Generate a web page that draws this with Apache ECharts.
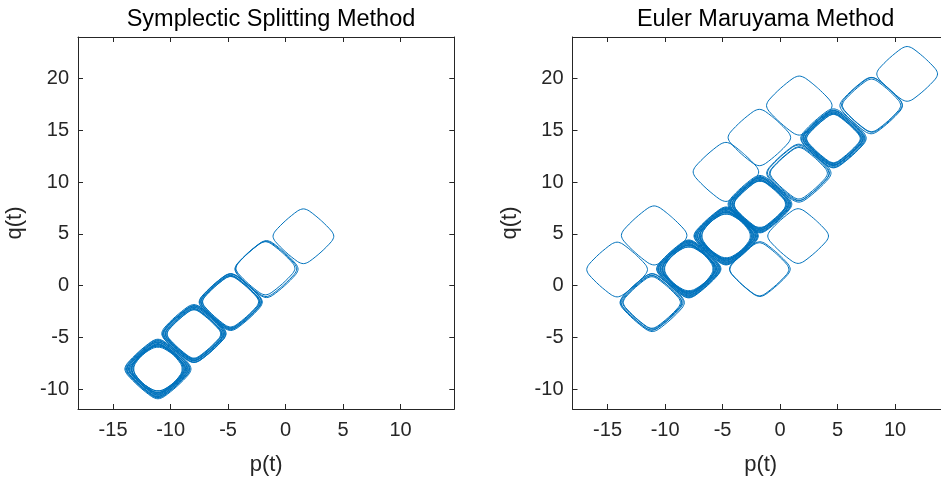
<!DOCTYPE html>
<html>
<head>
<meta charset="utf-8">
<script src="https://cdn.jsdelivr.net/npm/echarts@6/dist/echarts.min.js"></script>
<style>html,body{margin:0;padding:0;background:#fff;}#c{width:941px;height:477px;}</style>
</head>
<body>
<div id="c"></div>
<script>
// ---- data ----
const titles = ['Symplectic Splitting Method', 'Euler Maruyama Method'];
const xTicks = [-15, -10, -5, 0, 5, 10];
const yTicks = [-10, -5, 0, 5, 10, 15, 20];
const xRange = [-18.05, 14.67];
const yRange = [-11.9, 24];

// outer loop shape (near-separatrix orbit), relative to loop centre, data units
const shapeOuter = [[1.5,1.5],[1.0,1.97],[0.5,2.39],[0.25,2.53],[0,2.59],[-0.25,2.53],[-0.5,2.39],[-1.0,1.97],
  [-1.5,1.5],[-1.97,1.0],[-2.39,0.5],[-2.53,0.25],[-2.59,0],[-2.53,-0.25],[-2.39,-0.5],[-1.97,-1.0],
  [-1.5,-1.5],[-1.0,-1.97],[-0.5,-2.39],[-0.25,-2.53],[0,-2.59],[0.25,-2.53],[0.5,-2.39],[1.0,-1.97],
  [1.5,-1.5],[1.97,-1.0],[2.39,-0.5],[2.53,-0.25],[2.59,0],[2.53,0.25],[2.39,0.5],[1.97,1.0],[1.5,1.5]];
// inner (rounder) loop shape
const shapeInner = [[1.27,1.27],[1.0,1.51],[0.5,1.85],[0.25,1.95],[0,1.98],[-0.25,1.95],[-0.5,1.85],[-1.0,1.51],
  [-1.27,1.27],[-1.51,1.0],[-1.85,0.5],[-1.95,0.25],[-1.98,0],[-1.95,-0.25],[-1.85,-0.5],[-1.51,-1.0],
  [-1.27,-1.27],[-1.0,-1.51],[-0.5,-1.85],[-0.25,-1.95],[0,-1.98],[0.25,-1.95],[0.5,-1.85],[1.0,-1.51],
  [1.27,-1.27],[1.51,-1.0],[1.85,-0.5],[1.95,-0.25],[1.98,0],[1.95,0.25],[1.85,0.5],[1.51,1.0],[1.27,1.27]];
const shapes = [shapeOuter, shapeInner];

// loops: [centre p, centre q, size factor, shape index]
const leftLoops = [
  [1.55, 4.77, 1.02, 0],
  [-1.75, 1.68, 0.99, 0], [-1.70, 1.62, 1.03, 0], [-1.66, 1.60, 1.06, 0],
  [-4.78, -1.55, 0.94, 0], [-4.76, -1.57, 0.96, 0], [-4.80, -1.55, 0.98, 0], [-4.78, -1.60, 1.00, 0],
  [-4.75, -1.52, 1.02, 0], [-4.79, -1.56, 1.04, 0], [-4.77, -1.58, 1.06, 0],
  [-7.97, -4.66, 0.90, 0], [-7.95, -4.68, 0.92, 0], [-7.99, -4.64, 0.94, 0], [-7.97, -4.70, 0.96, 0],
  [-7.94, -4.63, 0.98, 0], [-8.00, -4.66, 1.00, 0], [-7.96, -4.60, 1.02, 0], [-7.98, -4.67, 1.04, 0],
  [-7.95, -4.65, 1.06, 0], [-7.97, -4.62, 1.08, 0],
  [-11.10, -8.04, 1.06, 1], [-11.08, -8.00, 1.09, 1], [-11.12, -8.06, 1.12, 1], [-11.10, -8.03, 1.15, 1],
  [-11.10, -8.02, 0.90, 0], [-11.07, -8.05, 0.92, 0], [-11.12, -8.03, 0.94, 0], [-11.09, -8.07, 0.96, 0],
  [-11.11, -8.00, 0.98, 0], [-11.08, -8.04, 1.00, 0], [-11.13, -8.06, 1.02, 0], [-11.10, -8.02, 1.04, 0],
  [-11.09, -8.05, 1.06, 0], [-11.11, -8.03, 1.08, 0], [-11.10, -8.04, 1.11, 0]
];
const rightLoops = [
  [11.05, 20.44, 1.02, 0],
  [7.95, 17.40, 0.98, 0], [7.98, 17.45, 1.02, 0], [7.92, 17.38, 1.05, 0],
  [4.64, 14.20, 0.90, 0], [4.66, 14.18, 0.92, 0], [4.62, 14.22, 0.94, 0], [4.64, 14.16, 0.96, 0],
  [4.67, 14.21, 0.98, 0], [4.61, 14.19, 1.00, 0], [4.64, 14.24, 1.02, 0], [4.65, 14.20, 1.04, 0],
  [4.63, 14.18, 1.07, 0], [4.64, 14.22, 1.10, 0],
  [1.63, 10.85, 0.96, 0], [1.66, 10.82, 1.00, 0], [1.60, 10.88, 1.04, 0], [1.63, 10.86, 1.08, 0],
  [-1.75, 7.85, 0.88, 0], [-1.73, 7.83, 0.90, 0], [-1.77, 7.87, 0.92, 0], [-1.75, 7.82, 0.94, 0],
  [-1.72, 7.88, 0.96, 0], [-1.78, 7.85, 0.98, 0], [-1.75, 7.86, 1.00, 0], [-1.74, 7.84, 1.02, 0],
  [-1.76, 7.85, 1.04, 0], [-1.75, 7.87, 1.07, 0], [-1.75, 7.85, 1.12, 1],
  [-4.69, 4.80, 1.06, 1], [-4.67, 4.78, 1.09, 1], [-4.71, 4.82, 1.12, 1], [-4.69, 4.79, 1.15, 1],
  [-4.69, 4.80, 0.90, 0], [-4.66, 4.78, 0.92, 0], [-4.72, 4.82, 0.94, 0], [-4.69, 4.76, 0.96, 0],
  [-4.67, 4.83, 0.98, 0], [-4.71, 4.79, 1.00, 0], [-4.69, 4.81, 1.02, 0], [-4.68, 4.80, 1.04, 0],
  [-4.70, 4.79, 1.06, 0], [-4.69, 4.80, 1.08, 0],
  [-7.94, 1.62, 1.06, 1], [-7.92, 1.60, 1.09, 1], [-7.96, 1.64, 1.12, 1], [-7.94, 1.61, 1.15, 1],
  [-7.94, 1.62, 0.90, 0], [-7.91, 1.60, 0.92, 0], [-7.97, 1.64, 0.94, 0], [-7.94, 1.58, 0.96, 0],
  [-7.92, 1.65, 0.98, 0], [-7.96, 1.61, 1.00, 0], [-7.94, 1.63, 1.02, 0], [-7.93, 1.62, 1.04, 0],
  [-7.95, 1.61, 1.06, 0], [-7.94, 1.62, 1.08, 0],
  [-11.15, -1.62, 0.96, 0], [-11.13, -1.60, 0.99, 0], [-11.17, -1.64, 1.02, 0], [-11.15, -1.58, 1.05, 0], [-11.12, -1.63, 1.08, 0],
  [-14.17, 1.56, 1.02, 0],
  [-10.95, 4.85, 1.10, 0],
  [-4.71, 10.98, 1.10, 0],
  [-1.80, 14.30, 1.05, 0],
  [1.67, 17.38, 1.10, 0],
  [1.57, 4.79, 1.02, 0],
  [-1.80, 1.58, 0.99, 0], [-1.76, 1.60, 1.02, 0]
];

// ---- chart ----
const AX = '#262626';
const LINE = '#0072BD';
const FONT = 'Liberation Sans';
const grids = [
  { left: 78, top: 37, width: 376.3, height: 372, containLabel: false, outerBoundsMode: 'none' },
  { left: 572.5, top: 37, width: 376.3, height: 372, containLabel: false, outerBoundsMode: 'none' }
];

const xAxes = [], yAxes = [], series = [];
[0, 1].forEach(g => {
  xAxes.push({
    type: 'value', gridIndex: g, min: xRange[0], max: xRange[1], position: 'bottom',
    name: 'p(t)', nameLocation: 'middle', nameGap: 45,
    nameTextStyle: { fontSize: 22, color: AX, fontFamily: FONT },
    axisLine: { show: true, onZero: false, lineStyle: { color: AX, width: 1 } },
    axisTick: { show: true, inside: true, length: 5, customValues: xTicks, lineStyle: { color: AX } },
    axisLabel: { show: true, customValues: xTicks, fontSize: 20, color: AX, margin: 11, fontFamily: FONT },
    splitLine: { show: false }
  });
  xAxes.push({
    type: 'value', gridIndex: g, min: xRange[0], max: xRange[1], position: 'top',
    axisLine: { show: true, onZero: false, lineStyle: { color: AX, width: 1 } },
    axisTick: { show: true, inside: true, length: 5, customValues: xTicks, lineStyle: { color: AX } },
    axisLabel: { show: false }, splitLine: { show: false }
  });
  yAxes.push({
    type: 'value', gridIndex: g, min: yRange[0], max: yRange[1], position: 'left',
    name: 'q(t)', nameLocation: 'middle', nameGap: 52, nameRotate: 90,
    nameTextStyle: { fontSize: 22, color: AX, fontFamily: FONT },
    axisLine: { show: true, onZero: false, lineStyle: { color: AX, width: 1 } },
    axisTick: { show: true, inside: true, length: 5, customValues: yTicks, lineStyle: { color: AX } },
    axisLabel: { show: true, customValues: yTicks, fontSize: 20, color: AX, margin: 9, fontFamily: FONT },
    splitLine: { show: false }
  });
  yAxes.push({
    type: 'value', gridIndex: g, min: yRange[0], max: yRange[1], position: 'right',
    axisLine: { show: true, onZero: false, lineStyle: { color: AX, width: 1 } },
    axisTick: { show: true, inside: true, length: 5, customValues: yTicks, lineStyle: { color: AX } },
    axisLabel: { show: false }, splitLine: { show: false }
  });
  const loops = g === 0 ? leftLoops : rightLoops;
  loops.forEach(([cp, cq, k, t]) => {
    series.push({
      type: 'line', xAxisIndex: g * 2, yAxisIndex: g * 2,
      data: shapes[t].map(([dp, dq]) => [cp + k * dp, cq + k * dq]),
      showSymbol: false, symbol: 'none', smooth: 0.35,
      lineStyle: { color: LINE, width: 1 },
      silent: true, clip: true
    });
  });
});

const chart = echarts.init(document.getElementById('c'), null, { renderer: 'canvas' });
chart.setOption({
  animation: false,
  backgroundColor: '#ffffff',
  title: [
    { text: titles[0], left: 266, top: 3, textAlign: 'center',
      textStyle: { fontSize: 23.5, fontWeight: 'normal', color: '#000', fontFamily: FONT } },
    { text: titles[1], left: 760.6, top: 3, textAlign: 'center',
      textStyle: { fontSize: 23.5, fontWeight: 'normal', color: '#000', fontFamily: FONT } }
  ],
  grid: grids,
  xAxis: xAxes,
  yAxis: yAxes,
  series: series
});
</script>
</body>
</html>
